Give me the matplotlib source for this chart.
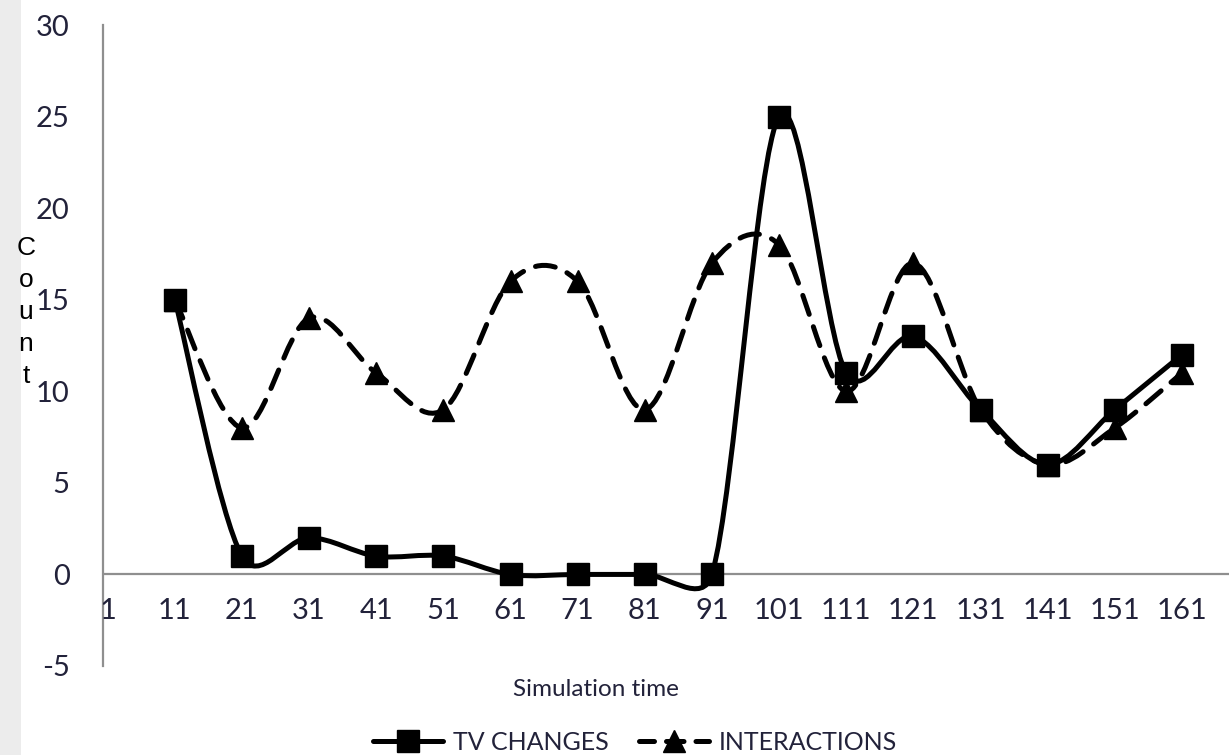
import numpy as np
import matplotlib
matplotlib.use('Agg')
import matplotlib.pyplot as plt
from matplotlib.path import Path
from matplotlib.patches import PathPatch, Rectangle
from matplotlib.lines import Line2D

plt.rcParams['axes.unicode_minus'] = False

categories = ['1', '11', '21', '31', '41', '51', '61', '71', '81', '91',
              '101', '111', '121', '131', '141', '151', '161']
tv_changes = [np.nan, 15, 1, 2, 1, 1, 0, 0, 0, 0, 25, 11, 13, 9, 6, 9, 12]
interactions = [np.nan, 15, 8, 14, 11, 9, 16, 16, 9, 17, 18, 10, 17, 9, 6, 8, 11]

TICK_COLOR = '#22223a'
AXIS_COLOR = '#8f8f8f'

XLIM = (-0.07, 16.7)
YLIM = (-5, 30)
AX_RECT = [103 / 1229, 89 / 755, 1 - 103 / 1229, 641 / 755]


def smooth_path(xs, ys, sx, sy):
  # spreadsheet-style smoothed line: bezier segments whose control
  # points are shortened when neighbouring points are far away
  pts = np.array([(x, y) for x, y in zip(xs, ys) if not np.isnan(y)], dtype=float)
  scr = pts * np.array([sx, sy])
  verts = [tuple(pts[0])]
  codes = [Path.MOVETO]
  n = len(pts)
  for i in range(n - 1):
    i0, i1, i2, i3 = max(i - 1, 0), i, i + 1, min(i + 2, n - 1)
    d02 = np.hypot(*(scr[i2] - scr[i0]))
    d12 = np.hypot(*(scr[i2] - scr[i1]))
    d13 = np.hypot(*(scr[i3] - scr[i1]))
    f1 = 1 / 6 if d02 / 6 < d12 / 2 else d12 / (2 * d02)
    f2 = 1 / 6 if d13 / 6 < d12 / 2 else d12 / (2 * d13)
    c1 = pts[i1] + (pts[i2] - pts[i0]) * f1
    c2 = pts[i2] - (pts[i3] - pts[i1]) * f2
    verts += [tuple(c1), tuple(c2), tuple(pts[i2])]
    codes += [Path.CURVE4] * 3
  return Path(verts, codes)


fig = plt.figure(figsize=(12.29, 7.55), dpi=100)
fig.patch.set_facecolor('white')
fig.patches.append(Rectangle((0, 0), 21 / 1229, 1, transform=fig.transFigure,
                             facecolor='#ececec', edgecolor='none', zorder=0))

ax = fig.add_axes(AX_RECT)
x = np.arange(len(categories))

# pixels per data unit, used for the smoothing
sx = AX_RECT[2] * 1229 / (XLIM[1] - XLIM[0])
sy = AX_RECT[3] * 755 / (YLIM[1] - YLIM[0])

ax.add_patch(PathPatch(smooth_path(x, interactions, sx, sy), fill=False, edgecolor='black',
                       linewidth=3.6, linestyle=(0, (4, 2.6)), capstyle='round', zorder=3))
ax.add_patch(PathPatch(smooth_path(x, tv_changes, sx, sy), fill=False, edgecolor='black',
                       linewidth=3.6, capstyle='round', joinstyle='round', zorder=4))
ax.plot(x, interactions, linestyle='none', marker='^', markersize=16,
        color='black', zorder=5)
ax.plot(x, tv_changes, linestyle='none', marker='s', markersize=16,
        color='black', zorder=6)

ax.set_xlim(*XLIM)
ax.set_ylim(*YLIM)
ax.set_yticks(range(-5, 31, 5))
ax.set_xticks([])

for s in ['top', 'right', 'bottom']:
  ax.spines[s].set_visible(False)
ax.spines['left'].set_color(AXIS_COLOR)
ax.spines['left'].set_linewidth(1.6)
ax.axhline(0, color=AXIS_COLOR, linewidth=1.6, zorder=2)

ax.tick_params(axis='y', length=0, pad=24, labelsize=21, labelcolor=TICK_COLOR)
for lbl in ax.get_yticklabels():
  lbl.set_fontfamily('Lato')

for xi, c in zip(x, categories):
  ax.text(xi, -2.0, c, ha='center', va='center', fontsize=21, family='Lato',
          color=TICK_COLOR, clip_on=True)

# vertical "Count" label, one letter per line
for i, ch in enumerate('Count'):
  fig.text(26 / 1229, 1 - (255 + 32 * i) / 755, ch, ha='center', va='baseline',
           fontsize=19, family='Liberation Sans', color='black')

fig.text(596 / 1229, 1 - 690 / 755, 'Simulation time', ha='center', va='center',
         fontsize=17.5, family='Lato', color=TICK_COLOR)

handles = [
  Line2D([], [], color='black', linewidth=3.6, marker='s', markersize=16,
         solid_capstyle='round'),
  Line2D([], [], color='black', linewidth=3.6, marker='^', markersize=16,
         linestyle=(0.5, (3.5, 2.4)), dash_capstyle='round'),
]
fig.legend(handles, ['TV CHANGES', 'INTERACTIONS'], loc='center',
           bbox_to_anchor=(635 / 1229, 1 - 742 / 755), ncol=2, frameon=False,
           prop={'family': 'Lato', 'size': 18}, handlelength=2.8,
           columnspacing=1.2, handletextpad=0.4)
for t in fig.legends[0].get_texts():
  t.set_color(TICK_COLOR)

fig.savefig('out.png', dpi=100)
